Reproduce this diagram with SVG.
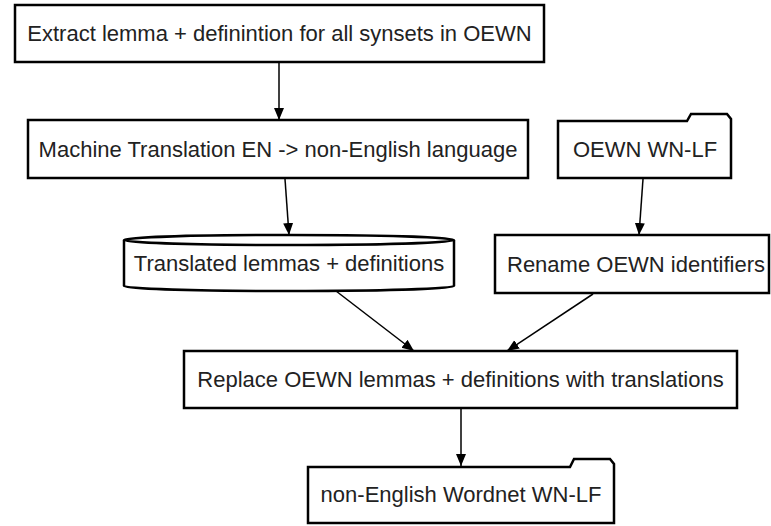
<svg xmlns="http://www.w3.org/2000/svg" width="771" height="526" viewBox="0 0 771 526">
<style>
.n{fill:#fff;stroke:#000;stroke-width:2.5}
.t{font-family:"Liberation Sans",Arial,sans-serif;font-size:22px;fill:#222;text-anchor:middle}
.e{stroke:#000;stroke-width:1.5;fill:none}
</style>
<defs>
<marker id="ah" markerUnits="userSpaceOnUse" markerWidth="12" markerHeight="14" refX="12" refY="5" orient="auto" viewBox="0 0 12 10">
<path d="M0,0 L12,5 L0,10 Z" fill="#000"/>
</marker>
</defs>
<rect width="771" height="526" fill="#fff"/>
<g id="connectors">
<line class="e" x1="279" y1="63" x2="279" y2="120" marker-end="url(#ah)"/>
<line class="e" x1="285" y1="179" x2="289" y2="235" marker-end="url(#ah)"/>
<line class="e" x1="643" y1="179" x2="639" y2="235" marker-end="url(#ah)"/>
<line class="e" x1="336" y1="291" x2="414" y2="351" marker-end="url(#ah)"/>
<line class="e" x1="593" y1="294" x2="507" y2="351" marker-end="url(#ah)"/>
<line class="e" x1="461" y1="409" x2="461" y2="466" marker-end="url(#ah)"/>
</g>
<g id="extract">
<rect class="n" x="15" y="5" width="529" height="57"/>
<text class="t" x="279.5" y="41">Extract lemma + definintion for all synsets in OEWN</text>
</g>
<g id="mt">
<rect class="n" x="28" y="120" width="500" height="58"/>
<text class="t" x="278" y="157">Machine Translation EN -&gt; non-English language</text>
</g>
<g id="oewn">
<path class="n" d="M558,121 L687,121 L691,114 L727,114 L731,119 L731,178 L558,178 Z"/>
<text class="t" x="645" y="157">OEWN WN-LF</text>
</g>
<g id="translated">
<path class="n" d="M124,240 A165,5 0 0 1 454,240 L454,286 A165,5 0 0 1 124,286 Z"/>
<path class="n" d="M124,240 A165,5 0 0 0 454,240" fill="none"/>
<text class="t" x="289" y="271">Translated lemmas + definitions</text>
</g>
<g id="rename">
<rect class="n" x="495" y="235" width="274" height="58"/>
<text class="t" x="636" y="272">Rename OEWN identifiers</text>
</g>
<g id="replace">
<rect class="n" x="184" y="351" width="553" height="57"/>
<text class="t" x="460.5" y="387">Replace OEWN lemmas + definitions with translations</text>
</g>
<g id="output">
<path class="n" d="M308,467 L570,467 L574,459 L610,459 L614,464 L614,523 L308,523 Z"/>
<text class="t" x="461" y="502">non-English Wordnet WN-LF</text>
</g>
</svg>
